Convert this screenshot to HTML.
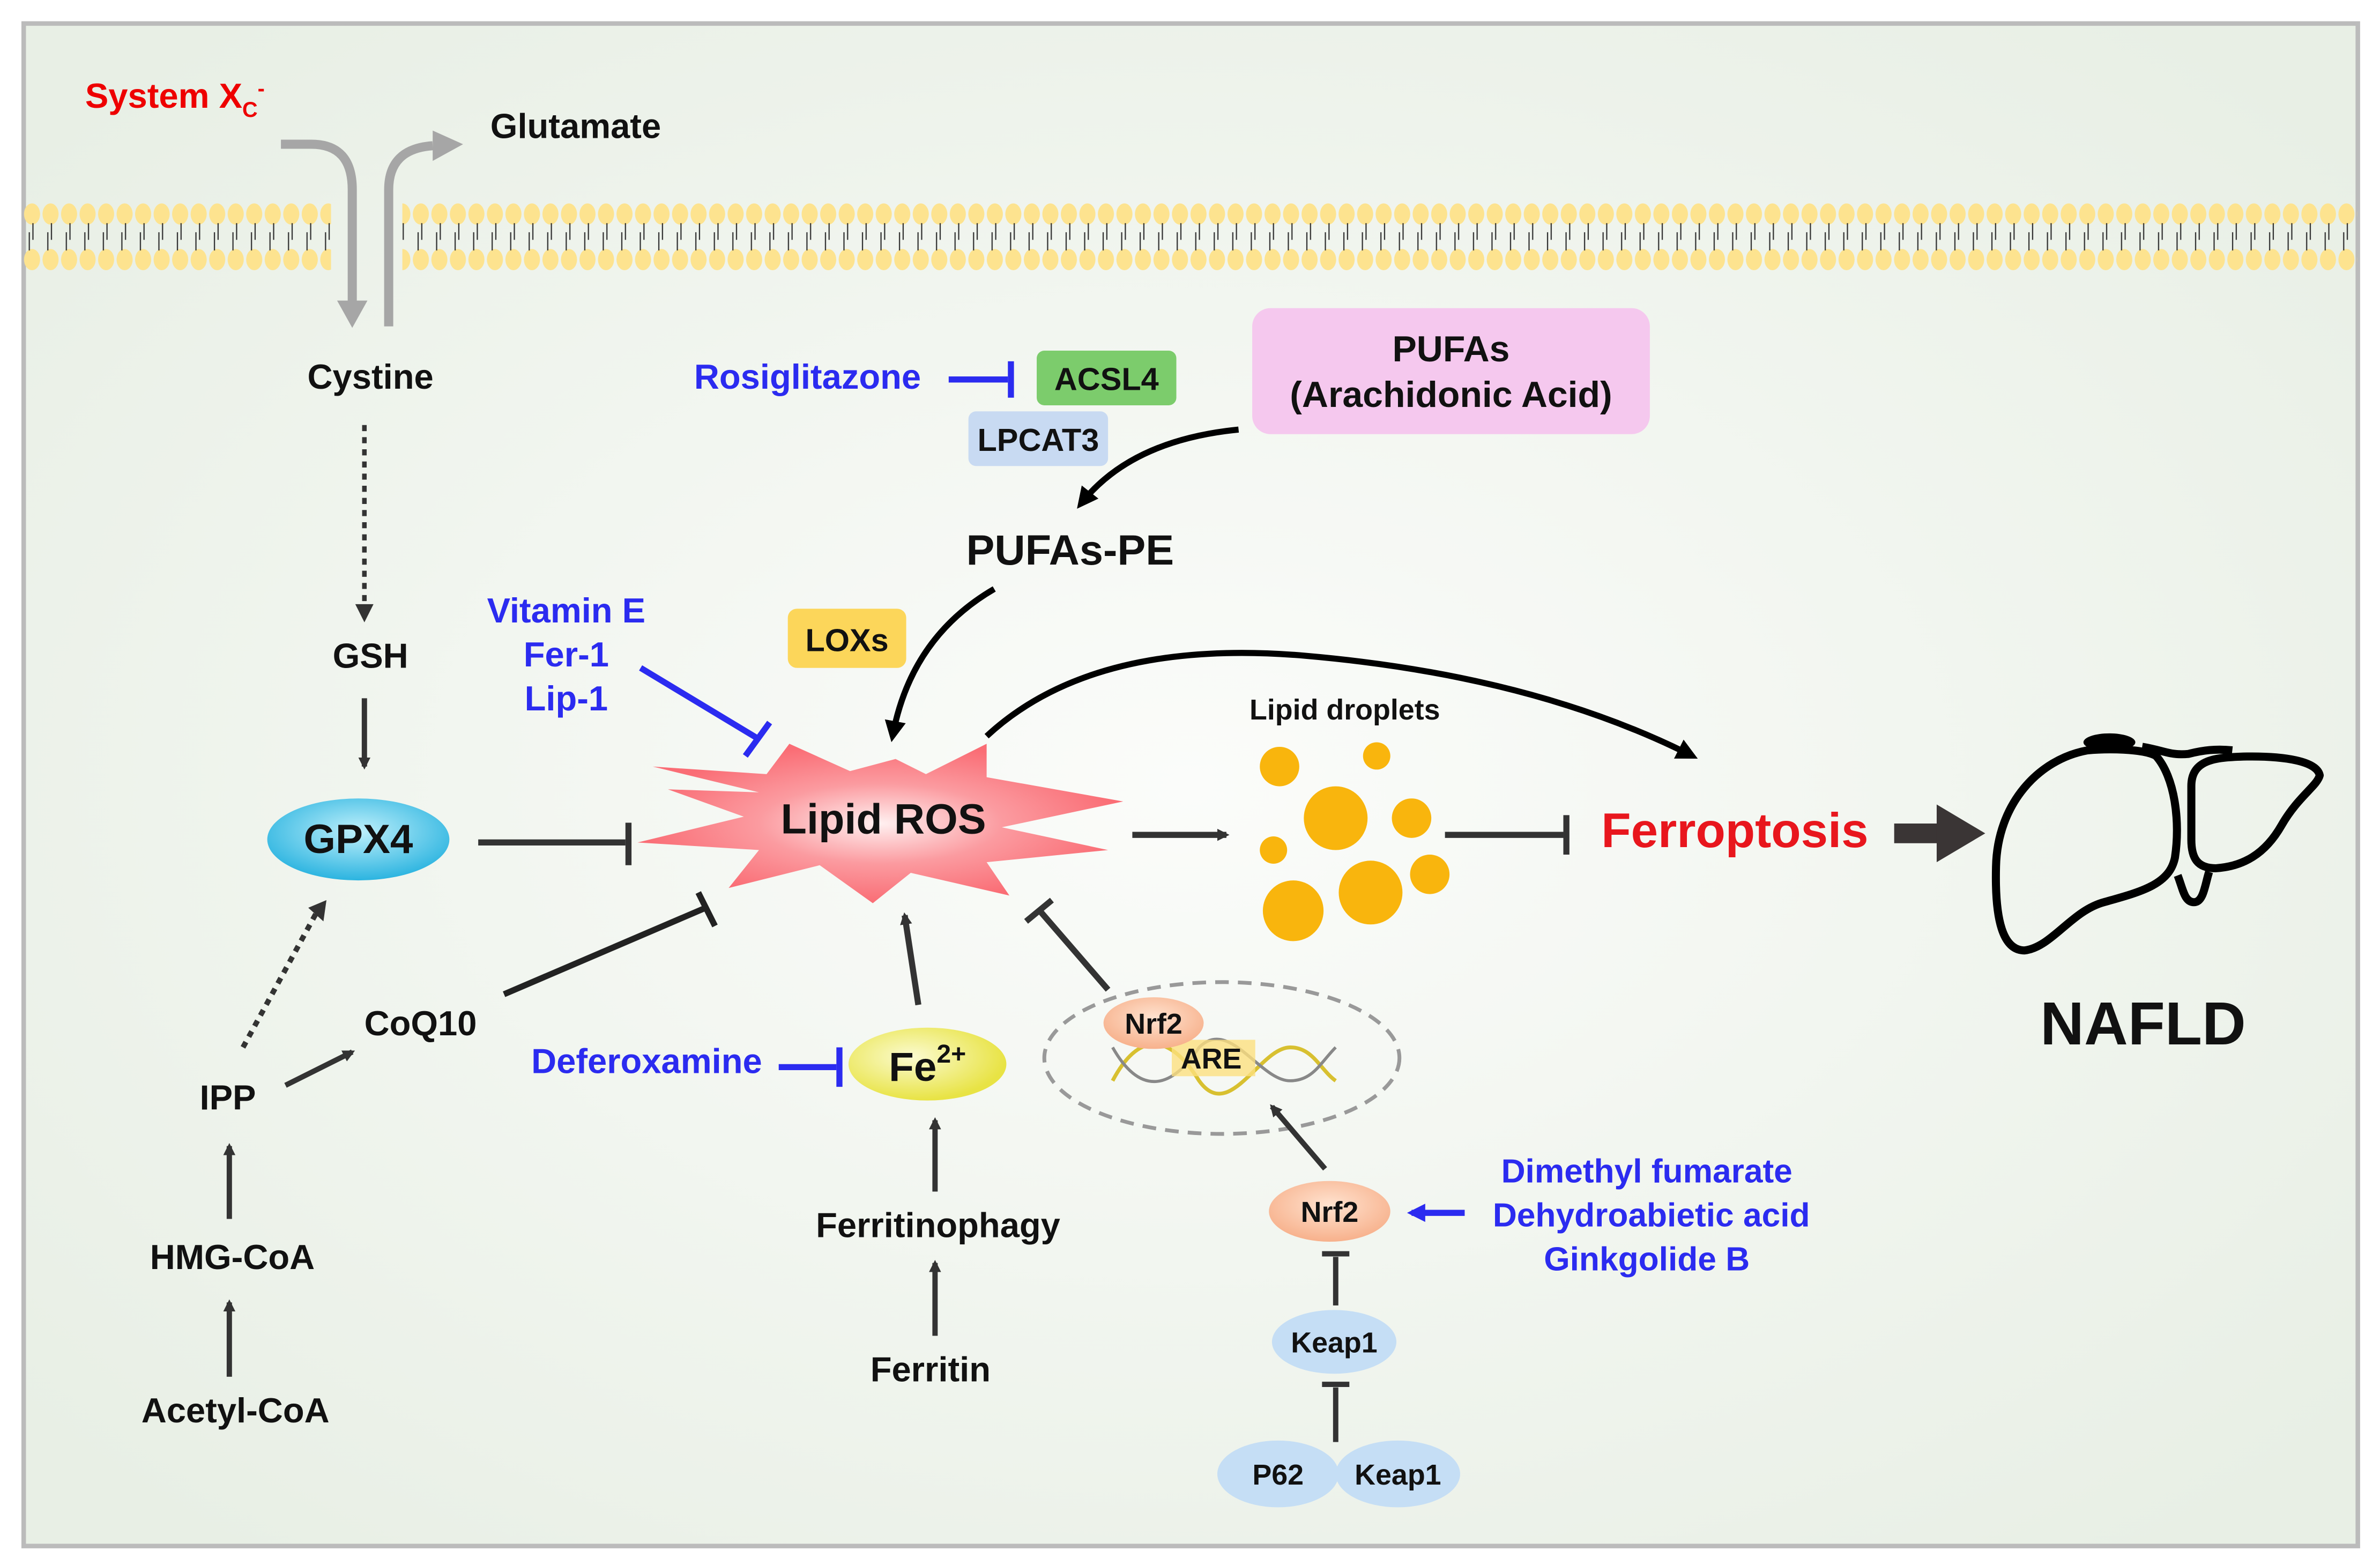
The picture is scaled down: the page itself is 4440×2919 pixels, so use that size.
<!DOCTYPE html>
<html><head><meta charset="utf-8"><style>
html,body{margin:0;padding:0;background:#fff;}
svg{display:block;}
text{font-family:"Liberation Sans",Arial,sans-serif;font-weight:bold;}
</style></head><body>
<svg width="4440" height="2919" viewBox="0 0 1568 1031" xmlns="http://www.w3.org/2000/svg">
<defs>
<radialGradient id="bg" cx="50%" cy="50%" r="65%">
<stop offset="0" stop-color="#fbfcfa"/><stop offset="1" stop-color="#e8efe5"/>
</radialGradient>
<pattern id="mem" x="15" y="0" width="12.2" height="1031" patternUnits="userSpaceOnUse">
<ellipse cx="6" cy="141" rx="5.3" ry="7" fill="#fde38f"/>
<ellipse cx="6" cy="171" rx="5.3" ry="7" fill="#fde38f"/>
<line x1="6.6" y1="147" x2="6.6" y2="158" stroke="#333" stroke-width="0.8"/>
<line x1="4.2" y1="153" x2="4.2" y2="165" stroke="#333" stroke-width="0.8"/>
</pattern>
<radialGradient id="ros" cx="50%" cy="50%" r="50%">
<stop offset="0" stop-color="#fff0f0"/><stop offset="0.5" stop-color="#fb9ba0"/><stop offset="1" stop-color="#fa6d75"/>
</radialGradient>
<radialGradient id="gpx" cx="50%" cy="40%" r="60%">
<stop offset="0" stop-color="#bff0fb"/><stop offset="1" stop-color="#2cb4e0"/>
</radialGradient>
<radialGradient id="fe" cx="40%" cy="40%" r="60%">
<stop offset="0" stop-color="#fbfbd0"/><stop offset="1" stop-color="#e8e344"/>
</radialGradient>
<radialGradient id="nrf" cx="50%" cy="40%" r="60%">
<stop offset="0" stop-color="#ffe3d0"/><stop offset="1" stop-color="#f7b18c"/>
</radialGradient>
<marker id="ah" markerWidth="8" markerHeight="8" refX="6" refY="4" orient="auto" markerUnits="userSpaceOnUse"><path d="M0,0 L8,4 L0,8 Z" fill="#333"/></marker>
<marker id="ahb" markerWidth="14" markerHeight="14" refX="10" refY="7" orient="auto" markerUnits="userSpaceOnUse"><path d="M0,0 L14,7 L0,14 Z" fill="#000"/></marker>
<marker id="ahbl" markerWidth="12" markerHeight="12" refX="9" refY="6" orient="auto" markerUnits="userSpaceOnUse"><path d="M0,0 L12,6 L0,12 Z" fill="#2b2bf0"/></marker>
</defs>
<rect x="0" y="0" width="1568" height="1031" fill="#fff"/>
<rect x="15.5" y="15.5" width="1538" height="1003" fill="url(#bg)" stroke="#bbb" stroke-width="3"/>
<!-- membrane -->
<rect x="15" y="125" width="203" height="60" fill="url(#mem)"/>
<rect x="265" y="125" width="1288" height="60" fill="url(#mem)"/>
<!-- transporter arrows -->
<path d="M185,95 L205,95 Q232,95 232,125 L232,200" fill="none" stroke="#a6a6a6" stroke-width="6"/>
<path d="M222,198 L242,198 L232,216 Z" fill="#a6a6a6"/>
<path d="M256,215 L256,125 Q256,98 285,96" fill="none" stroke="#a6a6a6" stroke-width="6"/>
<path d="M285,86 L305,95 L285,106 Z" fill="#a6a6a6"/>
<text x="56" y="71" font-size="23" fill="#e00">System X<tspan font-size="14" dy="6">C</tspan><tspan font-size="14" dy="-14">-</tspan></text>
<text x="323" y="91" font-size="23" fill="#111">Glutamate</text>
<!-- left column -->
<text x="244" y="256" font-size="23" fill="#111" text-anchor="middle">Cystine</text>
<line x1="240" y1="280" x2="240" y2="400" stroke="#333" stroke-width="3" stroke-dasharray="4,4"/>
<path d="M234,398 L246,398 L240,410 Z" fill="#333"/>
<text x="244" y="440" font-size="23" fill="#111" text-anchor="middle">GSH</text>
<line x1="240" y1="460" x2="240" y2="505" stroke="#333" stroke-width="3.5" marker-end="url(#ah)"/>
<ellipse cx="236" cy="553" rx="60" ry="27" fill="url(#gpx)"/>
<text x="236" y="562" font-size="27" fill="#111" text-anchor="middle">GPX4</text>
<line x1="315" y1="555" x2="412" y2="555" stroke="#333" stroke-width="4"/>
<line x1="414" y1="542" x2="414" y2="570" stroke="#333" stroke-width="4"/>
<line x1="160" y1="690" x2="208" y2="602" stroke="#333" stroke-width="3.5" stroke-dasharray="4,4"/>
<path d="M203,598 L215,593 L213,607 Z" fill="#333"/>
<text x="277" y="682" font-size="23" fill="#111" text-anchor="middle">CoQ10</text>
<line x1="332" y1="655" x2="465" y2="598" stroke="#222" stroke-width="4"/>
<line x1="460" y1="588" x2="471" y2="610" stroke="#222" stroke-width="4"/>
<text x="150" y="731" font-size="23" fill="#111" text-anchor="middle">IPP</text>
<line x1="188" y1="715" x2="232" y2="693" stroke="#333" stroke-width="3.5" marker-end="url(#ah)"/>
<line x1="151" y1="803" x2="151" y2="755" stroke="#333" stroke-width="3.5" marker-end="url(#ah)"/>
<text x="153" y="836" font-size="23" fill="#111" text-anchor="middle">HMG-CoA</text>
<line x1="151" y1="907" x2="151" y2="858" stroke="#333" stroke-width="3.5" marker-end="url(#ah)"/>
<text x="155" y="937" font-size="23" fill="#111" text-anchor="middle">Acetyl-CoA</text>
<!-- top middle -->
<text x="532" y="256" font-size="23" fill="#2b2bf0" text-anchor="middle">Rosiglitazone</text>
<line x1="625" y1="250" x2="664" y2="250" stroke="#2b2bf0" stroke-width="4"/>
<line x1="666" y1="238" x2="666" y2="262" stroke="#2b2bf0" stroke-width="4"/>
<rect x="683" y="231" width="92" height="36" rx="5" fill="#7ccc6c"/>
<text x="729" y="257" font-size="21" fill="#111" text-anchor="middle">ACSL4</text>
<rect x="638" y="271" width="92" height="36" rx="5" fill="#c8daf2"/>
<text x="684" y="297" font-size="21" fill="#111" text-anchor="middle">LPCAT3</text>
<rect x="825" y="203" width="262" height="83" rx="12" fill="#f5c8ee"/>
<text x="956" y="238" font-size="24" fill="#111" text-anchor="middle">PUFAs</text>
<text x="956" y="268" font-size="24" fill="#111" text-anchor="middle">(Arachidonic Acid)</text>
<path d="M816,283 Q745,290 712,332" fill="none" stroke="#000" stroke-width="4" marker-end="url(#ahb)"/>
<text x="705" y="372" font-size="28" fill="#111" text-anchor="middle">PUFAs-PE</text>
<path d="M655,388 Q600,420 588,485" fill="none" stroke="#000" stroke-width="4" marker-end="url(#ahb)"/>
<rect x="519" y="401" width="78" height="39" rx="6" fill="#fcd65a"/>
<text x="558" y="429" font-size="21" fill="#111" text-anchor="middle">LOXs</text>
<text x="373" y="410" font-size="23" fill="#2b2bf0" text-anchor="middle">Vitamin E</text>
<text x="373" y="439" font-size="23" fill="#2b2bf0" text-anchor="middle">Fer-1</text>
<text x="373" y="468" font-size="23" fill="#2b2bf0" text-anchor="middle">Lip-1</text>
<line x1="422" y1="440" x2="500" y2="487" stroke="#2b2bf0" stroke-width="4"/>
<line x1="491" y1="498" x2="507" y2="476" stroke="#2b2bf0" stroke-width="4"/>
<!-- lipid ROS -->
<polygon points="430,505 505,510 520,490 560,508 590,500 610,510 650,490 650,512 740,528 660,545 730,560 650,568 665,590 600,575 575,595 540,570 480,585 500,560 420,555 490,538 440,520 500,522" fill="url(#ros)"/>
<text x="582" y="549" font-size="28" fill="#111" text-anchor="middle">Lipid ROS</text>
<path d="M650,485 Q720,420 860,432 Q1010,445 1115,498" fill="none" stroke="#000" stroke-width="4" marker-end="url(#ahb)"/>
<line x1="746" y1="550" x2="808" y2="550" stroke="#333" stroke-width="4" marker-end="url(#ah)"/>
<!-- droplets -->
<text x="886" y="474" font-size="19" fill="#111" text-anchor="middle">Lipid droplets</text>
<g fill="#f9b50d">
<circle cx="843" cy="505" r="13"/><circle cx="907" cy="498" r="9"/>
<circle cx="880" cy="539" r="21"/><circle cx="930" cy="539" r="13"/>
<circle cx="839" cy="560" r="9"/><circle cx="852" cy="600" r="20"/>
<circle cx="903" cy="588" r="21"/><circle cx="942" cy="576" r="13"/>
</g>
<line x1="952" y1="550" x2="1030" y2="550" stroke="#333" stroke-width="4"/>
<line x1="1032" y1="537" x2="1032" y2="563" stroke="#333" stroke-width="4"/>
<text x="1143" y="558" font-size="32" fill="#e8161d" text-anchor="middle">Ferroptosis</text>
<line x1="1248" y1="549" x2="1278" y2="549" stroke="#3a3535" stroke-width="13"/>
<path d="M1276,530 L1308,549 L1276,568 Z" fill="#3a3535"/>
<!-- liver -->
<g transform="translate(1271,459) scale(0.18,0.1177)" fill="none" stroke="#000" stroke-linejoin="round">
<path vector-effect="non-scaling-stroke" stroke-width="15" d="M580,300 C400,350 250,600 245,950 C240,1250 270,1420 350,1420 C450,1400 520,1200 640,1150 C780,1090 880,1050 900,900 C920,700 900,450 830,330 C780,290 650,290 580,300 Z"/>
<path vector-effect="non-scaling-stroke" stroke-width="15" d="M960,500 C960,350 1050,340 1150,335 C1300,330 1420,360 1430,440 C1420,500 1350,560 1290,720 C1230,880 1150,950 1050,960 C980,960 960,900 960,800 Z"/>
<ellipse cx="660" cy="255" rx="95" ry="50" fill="#000" stroke="none"/>
<path vector-effect="non-scaling-stroke" stroke-width="15" d="M780,280 C860,300 880,330 950,320 C1000,300 1050,290 1110,300"/>
<path vector-effect="non-scaling-stroke" stroke-width="15" d="M910,1000 C930,1080 935,1150 970,1150 C1005,1150 1010,1050 1025,980"/>
</g>
<text x="1412" y="688" font-size="40" fill="#111" text-anchor="middle">NAFLD</text>
<!-- Fe -->
<line x1="605" y1="662" x2="596" y2="603" stroke="#333" stroke-width="4" marker-end="url(#ah)"/>
<ellipse cx="611" cy="701" rx="52" ry="24" fill="url(#fe)"/>
<text x="611" y="712" font-size="27" fill="#111" text-anchor="middle">Fe<tspan font-size="17" dy="-12">2+</tspan></text>
<text x="426" y="707" font-size="23" fill="#2b2bf0" text-anchor="middle">Deferoxamine</text>
<line x1="513" y1="703" x2="551" y2="703" stroke="#2b2bf0" stroke-width="4"/>
<line x1="553" y1="690" x2="553" y2="716" stroke="#2b2bf0" stroke-width="4"/>
<line x1="616" y1="785" x2="616" y2="738" stroke="#333" stroke-width="3.5" marker-end="url(#ah)"/>
<text x="618" y="815" font-size="23" fill="#111" text-anchor="middle">Ferritinophagy</text>
<line x1="616" y1="880" x2="616" y2="832" stroke="#333" stroke-width="3.5" marker-end="url(#ah)"/>
<text x="613" y="910" font-size="23" fill="#111" text-anchor="middle">Ferritin</text>
<!-- Nrf2 ARE -->
<line x1="730" y1="652" x2="685" y2="600" stroke="#333" stroke-width="4"/>
<line x1="676" y1="607" x2="693" y2="593" stroke="#333" stroke-width="4"/>
<ellipse cx="805" cy="697" rx="117" ry="50" fill="none" stroke="#999" stroke-width="2.5" stroke-dasharray="9,6"/>
<path d="M733,712 C750,680 770,680 790,712 C810,740 830,690 850,690 C865,690 870,705 880,712" fill="none" stroke="#d8c030" stroke-width="2.5"/>
<path d="M733,690 C750,720 770,720 790,690 C810,670 830,712 850,712 C865,712 870,700 880,690" fill="none" stroke="#888" stroke-width="2"/>
<rect x="772" y="685" width="55" height="24" fill="#fde080" opacity="0.8"/>
<text x="798" y="704" font-size="19" fill="#111" text-anchor="middle">ARE</text>
<ellipse cx="760" cy="674" rx="33" ry="17" fill="url(#nrf)"/>
<text x="760" y="681" font-size="19" fill="#111" text-anchor="middle">Nrf2</text>
<line x1="873" y1="770" x2="838" y2="729" stroke="#333" stroke-width="3.5" marker-end="url(#ah)"/>
<ellipse cx="876" cy="798" rx="40" ry="20" fill="url(#nrf)"/>
<text x="876" y="805" font-size="19" fill="#111" text-anchor="middle">Nrf2</text>
<line x1="965" y1="799" x2="930" y2="799" stroke="#2b2bf0" stroke-width="4" marker-end="url(#ahbl)"/>
<text x="1085" y="779" font-size="22" fill="#2b2bf0" text-anchor="middle">Dimethyl fumarate</text>
<text x="1088" y="808" font-size="22" fill="#2b2bf0" text-anchor="middle">Dehydroabietic acid</text>
<text x="1085" y="837" font-size="22" fill="#2b2bf0" text-anchor="middle">Ginkgolide B</text>
<line x1="880" y1="860" x2="880" y2="828" stroke="#333" stroke-width="3.5"/>
<line x1="871" y1="826" x2="889" y2="826" stroke="#333" stroke-width="3.5"/>
<ellipse cx="879" cy="884" rx="41" ry="21" fill="#c5def5"/>
<text x="879" y="891" font-size="19" fill="#111" text-anchor="middle">Keap1</text>
<line x1="880" y1="950" x2="880" y2="914" stroke="#333" stroke-width="3.5"/>
<line x1="871" y1="912" x2="889" y2="912" stroke="#333" stroke-width="3.5"/>
<ellipse cx="842" cy="971" rx="40" ry="22" fill="#c5def5"/>
<ellipse cx="921" cy="971" rx="41" ry="22" fill="#c5def5"/>
<text x="842" y="978" font-size="19" fill="#111" text-anchor="middle">P62</text>
<text x="921" y="978" font-size="19" fill="#111" text-anchor="middle">Keap1</text>
</svg>
</body></html>
